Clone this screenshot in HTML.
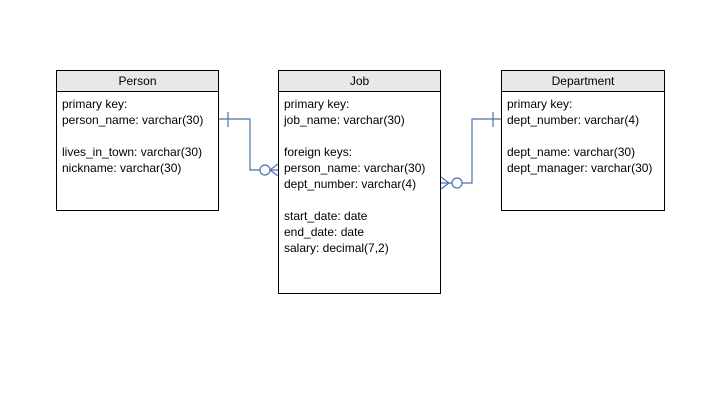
<!DOCTYPE html>
<html><head><style>
body{margin:0;width:720px;height:405px;background:#fff;position:relative;font-family:"Liberation Sans",sans-serif;font-size:12px;color:#000;overflow:hidden}
.box{position:absolute;border:1px solid #000;box-sizing:border-box;background:#fff}
.hd{height:20px;border-bottom:1px solid #000;background:#e8e8e8;text-align:center;line-height:20px}
.bd{padding:4px 5px;line-height:16px;white-space:pre}
svg{position:absolute;left:0;top:0}
</style></head><body>
<div class="box" style="left:56px;top:70px;width:163px;height:141px"><div class="hd">Person</div><div class="bd">primary key:
person_name: varchar(30)

lives_in_town: varchar(30)
nickname: varchar(30)</div></div>
<div class="box" style="left:278px;top:70px;width:163px;height:224px"><div class="hd">Job</div><div class="bd">primary key:
job_name: varchar(30)

foreign keys:
person_name: varchar(30)
dept_number: varchar(4)

start_date: date
end_date: date
salary: decimal(7,2)</div></div>
<div class="box" style="left:501px;top:70px;width:164px;height:141px"><div class="hd">Department</div><div class="bd">primary key:
dept_number: varchar(4)

dept_name: varchar(30)
dept_manager: varchar(30)</div></div>
<svg width="720" height="405"><g stroke="#4a72b0" stroke-width="1.2" fill="none">
<polyline points="219,119 250,119 250,170 278,170"/>
<line x1="228" y1="112" x2="228" y2="127"/>
<circle cx="265" cy="170" r="5" fill="#fff"/>
<line x1="270" y1="170" x2="278" y2="164"/><line x1="270" y1="170" x2="278" y2="176"/>
<polyline points="501,119 472,119 472,183 441,183"/>
<line x1="493" y1="112" x2="493" y2="127"/>
<circle cx="457" cy="183" r="5" fill="#fff"/>
<line x1="449" y1="183" x2="441" y2="177"/><line x1="449" y1="183" x2="441" y2="189"/>
</g></svg>
</body></html>
